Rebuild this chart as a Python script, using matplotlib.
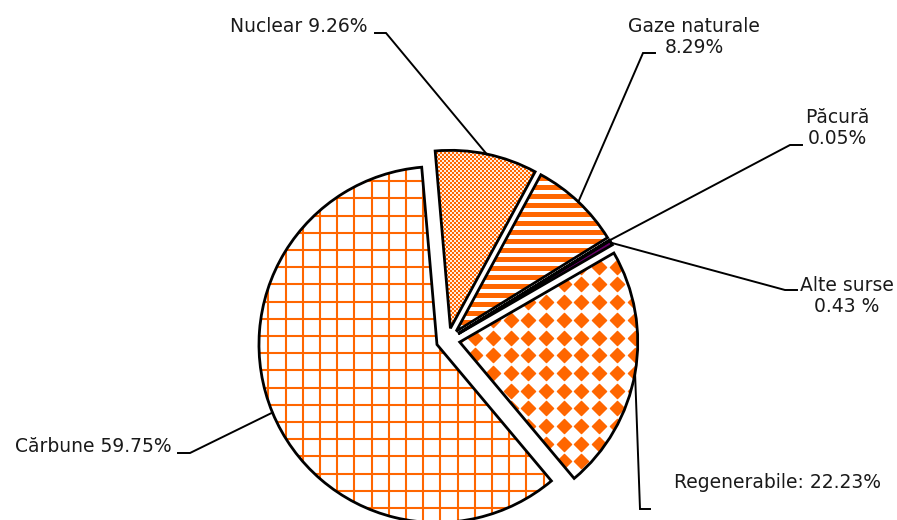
import numpy as np
import matplotlib.pyplot as plt
from matplotlib.patches import Wedge

# share of electricity production by source (%)
sources = ["Cărbune", "Nuclear", "Gaze naturale", "Păcură", "Alte surse", "Regenerabile"]
shares = [59.75, 9.26, 8.29, 0.05, 0.43, 22.23]
label_texts = ["Cărbune 59.75%", "Nuclear 9.26%", "Gaze naturale\n8.29%",
               "Păcură\n0.05%", "Alte surse\n0.43 %", "Regenerabile: 22.23%"]

ORANGE = "#FF6600"
W, H = 897, 520
R_PX = 178.0          # pie radius in pixels
CX, CY = 448, 340     # pie centre in pixels (from top-left)


def px(x, y):
    # pixel position (top-left origin) -> data coords
    return (x - CX) / R_PX, (CY - y) / R_PX


fig = plt.figure(figsize=(W / 100, H / 100), dpi=100)
ax = fig.add_axes([0, 0, 1, 1])

fills = ["white", "white", "white", "#333366", "#660066", "white"]
wedges, _ = ax.pie(shares, explode=[0.067] * len(shares), startangle=-50,
                   counterclock=False, colors=fills,
                   wedgeprops=dict(linewidth=0))
w_carb, w_nuc, w_gaz, w_pac, w_alte, w_reg = wedges


def clip(artist, w):
    artist.set_clip_path(w)
    artist.set_zorder(1.5)
    return artist


# Carbune: orange grid
step = 17.2 / R_PX
x0, _ = px(268.3, 0)
_, y0 = px(0, 232.7)
xs = x0 + step * np.arange(-20, 30)
ys = y0 + step * np.arange(-30, 30)
clip(ax.vlines(xs, -3, 3, colors=ORANGE, lw=1.5), w_carb)
clip(ax.hlines(ys, -3, 3, colors=ORANGE, lw=1.5), w_carb)

# Nuclear: fine checkerboard
nx, ny = 140, 200
ii, jj = np.mgrid[0:ny, 0:nx]
chk = ((ii // 2 + jj // 2) % 2).astype(float)
img = np.ones((ny, nx, 3))
img[chk == 1] = [1.0, 0.4, 0.0]
img[chk == 0] = [1.0, 0.93, 0.88]
ex0, ey0 = px(410, 140)
ex1, ey1 = px(410 + nx, 140 + ny)
im = ax.imshow(img, extent=(ex0, ex1, ey1, ey0), interpolation="nearest",
               aspect="auto")
clip(im, w_nuc)

# Gaze naturale: horizontal stripes
_, g0 = px(0, 187)
gy = g0 + (9.0 / R_PX) * np.arange(-40, 40)
clip(ax.hlines(gy, -3, 3, colors=ORANGE, lw=3.6), w_gaz)

# Regenerabile: rounded diamond dots
dstep = 17.7 / R_PX
dx0, _ = px(528.3, 0)
_, dy0 = px(0, 408.3)
gx, gyy = np.meshgrid(dx0 + dstep * np.arange(-10, 10), dy0 + dstep * np.arange(-15, 15))
clip(ax.scatter(gx.ravel(), gyy.ravel(), marker="D", s=52, color=ORANGE,
                linewidths=1.0, edgecolors=ORANGE), w_reg)

# black outlines on top
for w in wedges:
    ax.add_patch(Wedge(w.center, w.r, w.theta1, w.theta2, fill=False,
                       edgecolor="black", lw=2.0, joinstyle="miter", zorder=3))

# labels with leader lines
elbows = [(190, 453), (386, 33), (643, 53), (790, 145), (785, 290), (640, 509)]
ends = [(178, 453), (375, 33), (655, 53), (802, 145), (797, 290), (650, 509)]
text_pos = [(172, 447), (367, 26), (694, 37), (837, 128), (847, 296), (674, 483)]
text_ha = ["right", "right", "center", "center", "center", "left"]

for w, lab, el, en, tp, ha in zip(wedges, label_texts, elbows, ends, text_pos, text_ha):
    mid = np.deg2rad((w.theta1 + w.theta2) / 2)
    ax0 = w.center[0] + w.r * np.cos(mid)
    ay0 = w.center[1] + w.r * np.sin(mid)
    e1 = px(*el)
    e2 = px(*en)
    ax.plot([ax0, e1[0], e2[0]], [ay0, e1[1], e2[1]], color="black", lw=1.4,
            zorder=4, solid_joinstyle="miter")
    tx, ty = px(*tp)
    ax.text(tx, ty, lab, ha=ha, va="center", ma="center", fontsize=13.5,
            color="#1a1a1a", family="DejaVu Sans", linespacing=1.1)

ax.set_xlim(-CX / R_PX, (W - CX) / R_PX)
ax.set_ylim(-(H - CY) / R_PX, CY / R_PX)
ax.set_aspect("auto")
ax.axis("off")

fig.savefig("out.png", dpi=100)
